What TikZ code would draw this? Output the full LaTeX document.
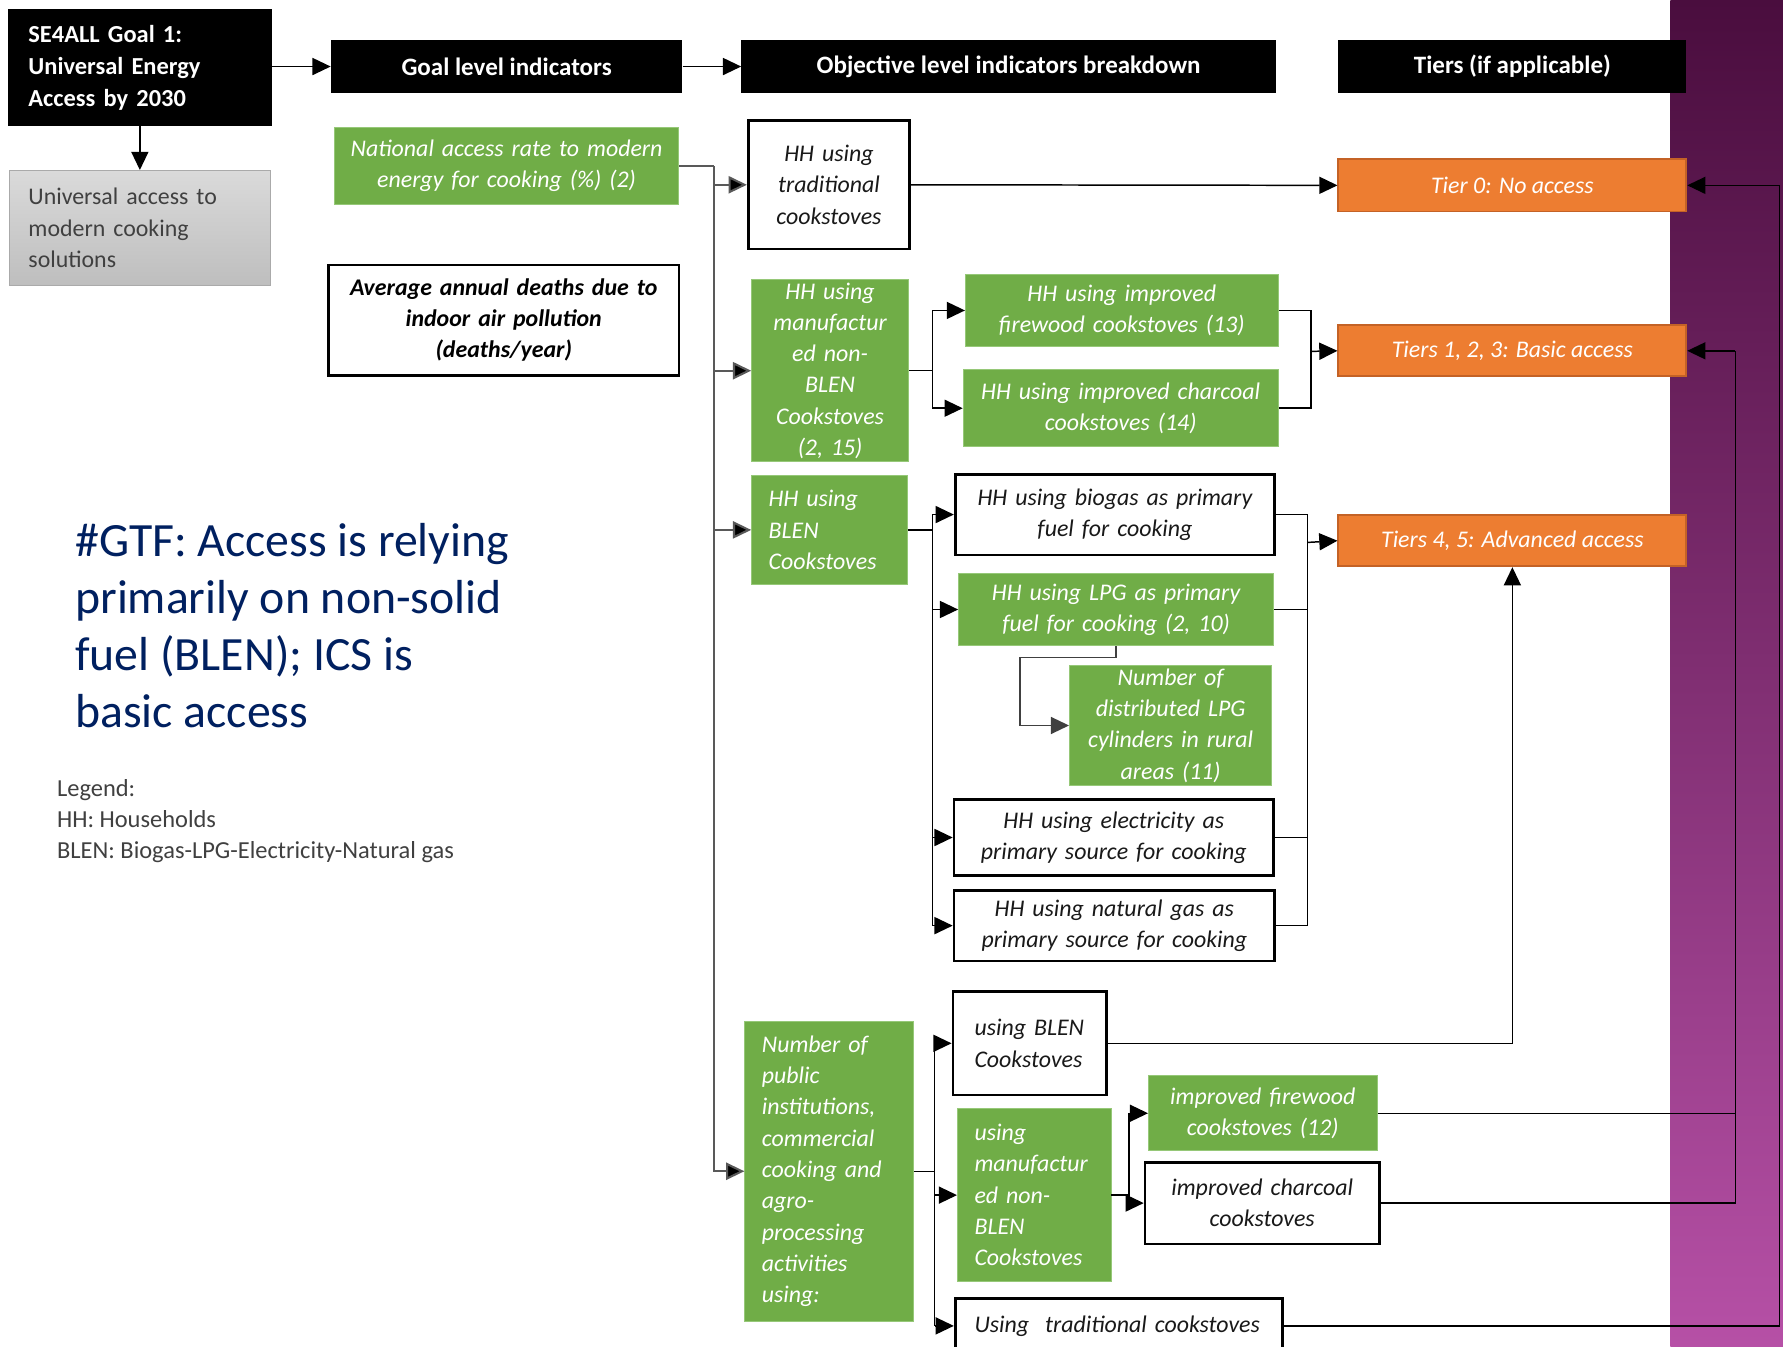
\documentclass[tikz,border=0pt]{standalone}
\usepackage{fontspec}
\setmainfont{Carlito}
\usetikzlibrary{arrows.meta,calc}
\definecolor{grn}{RGB}{112,173,71}
\definecolor{grnb}{RGB}{150,200,120}
\definecolor{org}{RGB}{237,125,49}
\definecolor{orgb}{RGB}{196,98,38}
\definecolor{gtop}{RGB}{218,218,218}
\definecolor{gbot}{RGB}{190,190,190}
\definecolor{gbrd}{RGB}{170,170,170}
\definecolor{gtxt}{RGB}{64,64,64}
\definecolor{gtf}{RGB}{0,32,96}
\definecolor{ptop}{RGB}{74,13,62}
\definecolor{pbot}{RGB}{182,80,166}
\newcommand{\bodyfont}{\fontsize{21}{27.5}\selectfont}
\tikzset{
  hdr/.style={fill=black, text=white, font=\fontsize{22}{28}\selectfont\bfseries, inner sep=0pt, align=center},
  grnbox/.style={fill=grn, draw=grnb, line width=0.8pt, text=white, font=\bodyfont\itshape, inner ysep=0pt, inner xsep=4pt, align=center},
  whtbox/.style={fill=white, draw=black, line width=2.4pt, text=black!90, font=\bodyfont\itshape, inner ysep=0pt, inner xsep=4pt, align=center},
  orgbox/.style={fill=org, draw=orgb, line width=1.6pt, text=white, font=\bodyfont\itshape, inner sep=0pt, align=center},
  conn/.style={line width=1.3pt, draw=black},
  trunk/.style={line width=1.8pt, draw=black!65},
  arr/.style={conn, -{Triangle[length=16pt,width=15pt]}},
  tarr/.style={trunk, -{Triangle[length=16pt,width=15pt,fill=black]}},
}
\begin{document}
\begin{tikzpicture}[x=1pt,y=-1pt]
\useasboundingbox (0,0) rectangle (1568,1184);
\clip (0,0) rectangle (1568,1184);
\fill[white] (0,0) rectangle (1568,1184);
\shade[top color=ptop, bottom color=pbot] (1469,0) rectangle (1568,1184);

% headers
\node[hdr, minimum width=232, minimum height=103, text width=196, inner xsep=18, align=left, font=\fontsize{21.5}{28}\selectfont\bfseries] (goal) at (123,59.5) {SE4ALL Goal 1:\\Universal Energy\\Access by 2030};
\node[hdr, minimum width=309, minimum height=47] (gli) at (445.5,58.5) {Goal level indicators};
\node[hdr, minimum width=470, minimum height=47] (obj) at (887,58.5) {Objective level indicators breakdown};
\node[hdr, minimum width=306, minimum height=47] (tiers) at (1330,58.5) {Tiers (if applicable)};

\node[top color=gtop, bottom color=gbot, draw=gbrd, line width=1pt, minimum width=230, minimum height=101, text width=196, inner xsep=17, inner ysep=0pt, align=left, text=gtxt, font=\fontsize{21}{27.5}\selectfont] (uni) at (123,200.5) {Universal access to\\modern cooking\\solutions};

% goal level
\node[grnbox, minimum width=303, minimum height=68, text width=293] (nat) at (445.5,146) {National access rate to modern\\energy for cooking (\%) (2)};
\node[whtbox, minimum width=308, minimum height=97, text width=298, font=\bodyfont\bfseries\itshape, text=black] (deaths) at (443,281.5) {Average annual deaths due to\\indoor air pollution\\(deaths/year)};

% objective level
\node[whtbox, minimum width=142, minimum height=113, text width=132] (trad) at (729,162.5) {HH using\\traditional\\cookstoves};
\node[grnbox, minimum width=138, minimum height=160, text width=130] (manuf) at (730,326) {HH using\\manufactur\\ed non-\\BLEN\\Cookstoves\\(2, 15)};
\node[grnbox, minimum width=137, minimum height=96, text width=107, inner xsep=15, align=left] (blen) at (729.5,466) {HH using\\BLEN\\Cookstoves};
\node[grnbox, minimum width=275, minimum height=64, text width=265] (fire13) at (986.5,273) {HH using improved\\firewood cookstoves (13)};
\node[grnbox, minimum width=277, minimum height=68, text width=267] (char14) at (985.5,359) {HH using improved charcoal\\cookstoves (14)};
\node[whtbox, minimum width=281, minimum height=71, text width=271] (biogas) at (980.5,452.5) {HH using biogas as primary\\fuel for cooking};
\node[grnbox, minimum width=277, minimum height=64, text width=267] (lpg) at (981.5,536) {HH using LPG as primary\\fuel for cooking (2, 10)};
\node[grnbox, minimum width=177, minimum height=106, text width=170] (ncyl) at (1029.5,638) {Number of\\distributed LPG\\cylinders in rural\\areas (11)};
\node[whtbox, minimum width=281, minimum height=67, text width=271] (elec) at (979.5,736.5) {HH using electricity as\\primary source for cooking};
\node[whtbox, minimum width=282, minimum height=62, text width=272] (ngas) at (980,814) {HH using natural gas as\\primary source for cooking};

\node[grnbox, minimum width=148, minimum height=264, text width=118, inner xsep=15, align=left] (pub) at (729,1030) {Number of\\public\\institutions,\\commercial\\cooking and\\agro-\\processing\\activities\\using:};
\node[whtbox, minimum width=135, minimum height=91, text width=97, inner xsep=19, align=left] (ublen) at (905.5,917.5) {using BLEN\\Cookstoves};
\node[grnbox, minimum width=135, minimum height=152, text width=105, inner xsep=15, align=left] (umanuf) at (909.5,1051) {using\\manufactur\\ed non-\\BLEN\\Cookstoves};
\node[whtbox, minimum width=288, minimum height=48, text width=254, inner xsep=17, align=left] (utrad) at (984,1166) {Using\ \ traditional cookstoves};
\node[grnbox, minimum width=201, minimum height=66, text width=193] (ifire12) at (1110.5,979) {improved firewood\\cookstoves (12)};
\node[whtbox, minimum width=206, minimum height=72, text width=196] (ichar) at (1110,1058) {improved charcoal\\cookstoves};

% tiers
\node[orgbox, minimum width=306, minimum height=46] (t0) at (1330,163) {Tier 0: No access};
\node[orgbox, minimum width=306, minimum height=45] (t13) at (1330,308.5) {Tiers 1, 2, 3: Basic access};
\node[orgbox, minimum width=306, minimum height=45] (t45) at (1330,475.5) {Tiers 4, 5: Advanced access};

% left texts
\node[anchor=north west, inner sep=0pt, align=left, text=gtf, font=\fontsize{42}{50}\selectfont] (gtfnote) at (66,460) {\#GTF: Access is relying\\primarily on non-solid\\fuel (BLEN); ICS is\\basic access};
\node[anchor=north west, inner sep=0pt, align=left, text=gtxt, font=\fontsize{21.5}{27.5}\selectfont] (legend) at (50,685) {Legend:\\HH: Households\\BLEN: Biogas-LPG-Electricity-Natural gas};

% header connectors
\draw[arr] (goal.east |- gli.west) -- (gli.west);
\draw[arr] (gli.east) -- (obj.west);
\draw[arr] (goal.south) -- (uni.north);

% trunk
\coordinate (tk) at (628,146);
\draw[trunk] (nat.east) -- (tk);
\draw[tarr] (tk) |- (pub.west);
\draw[tarr] (tk |- trad.west) -- (trad.west);
\draw[tarr] (tk |- manuf.west) -- (manuf.west);
\draw[tarr] (tk |- blen.west) -- (blen.west);

\draw[arr] (trad.east) -- (t0.west);

% manufactured non-BLEN branch
\coordinate (b1) at (820,273);
\draw[conn] (manuf.east) -- (manuf.east -| b1);
\draw[arr] (b1 |- manuf.east) |- (fire13.west);
\draw[arr] (b1 |- manuf.east) |- (char14.west);
\coordinate (r1) at (1153,309);
\draw[conn] (fire13.east) -| (r1);
\draw[conn] (char14.east) -| (r1);
\draw[arr] (r1) -- (t13.west);

% BLEN branch
\coordinate (b2) at (820,452.5);
\draw[conn] (blen.east) -- (blen.east -| b2);
\draw[conn] (b2) -- (b2 |- ngas.west);
\draw[arr] (b2 |- biogas.west) -- (biogas.west);
\draw[arr] (b2 |- lpg.west) -- (lpg.west);
\draw[arr] (b2 |- elec.west) -- (elec.west);
\draw[arr] (b2 |- ngas.west) -- (ngas.west);
\coordinate (r2) at (1150,477);
\draw[conn] (biogas.east) -| (r2);
\draw[conn] (lpg.east) -| (r2);
\draw[conn] (elec.east) -| (r2);
\draw[conn] (ngas.east) -| (r2);
\draw[arr] (r2) -- (t45.west);
\coordinate (c3) at (897,578);
\draw[arr, draw=black!75] (lpg.south) |- (c3) |- (ncyl.west);

% public institutions branch
\coordinate (b3) at (822,917.5);
\draw[conn] (pub.east) -- (pub.east -| b3);
\draw[conn] (b3) -- (b3 |- utrad.west);
\draw[arr] (b3 |- ublen.west) -- (ublen.west);
\draw[arr] (b3 |- umanuf.west) -- (umanuf.west);
\draw[arr] (b3 |- utrad.west) -- (utrad.west);
\coordinate (b4) at (993,979);
\draw[conn] (umanuf.east) -- (umanuf.east -| b4);
\draw[conn] (b4) -- (b4 |- ichar.west);
\draw[arr] (b4 |- ifire12.west) -- (ifire12.west);
\draw[arr] (b4 |- ichar.west) -- (ichar.west);

% long return connectors
\draw[arr] (ublen.east) -| (t45.south);
\coordinate (r3) at (1526,308.5);
\draw[conn] (ifire12.east) -| (r3);
\draw[conn] (ichar.east) -| (r3);
\draw[arr] (r3) -- (t13.east);
\coordinate (r4) at (1565,163);
\draw[conn] (utrad.east) -| (r4);
\draw[arr] (r4) -- (t0.east);
\end{tikzpicture}
\end{document}
